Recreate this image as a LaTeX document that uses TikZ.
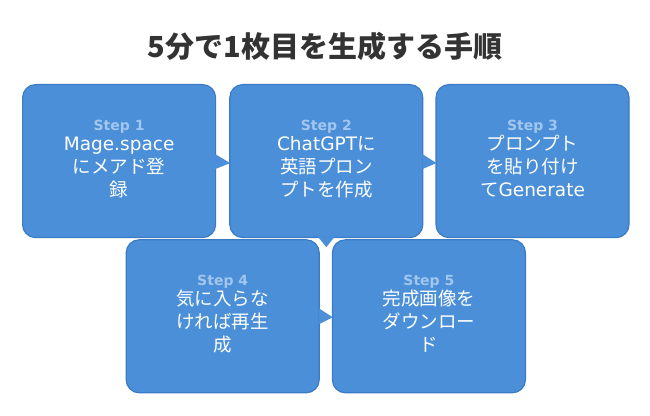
\documentclass[tikz,border=0pt]{standalone}
\usepackage{fontspec}
\setmainfont{Noto Sans CJK JP}
\newfontfamily\latf{DejaVu Sans}
\usepackage{xcolor}
\usepackage{tikz}
\usetikzlibrary{positioning, calc}
\definecolor{stepblue}{HTML}{4A8FD8}
\definecolor{stepedge}{HTML}{3B7BC6}
\definecolor{steplabel}{HTML}{A3C6EE}
\definecolor{titlegrey}{HTML}{333333}
\newcommand{\stepno}[1]{{\latf\fontsize{14}{16}\selectfont\bfseries\color{steplabel}Step #1}\\[-3pt]}
\newcommand{\lift}{\\[-17pt]\mbox{}}

\begin{document}
\begin{tikzpicture}[x=1pt, y=1pt,
  st/.style={rectangle, rounded corners=13pt, draw=stepedge, line width=1.2pt,
             fill=stepblue, text=white, align=center, inner sep=0pt,
             minimum width=193pt, minimum height=153pt,
             font=\fontsize{18.5}{23}\selectfont},
  tp/.style={fill=stepblue},
  hd/.style={text=titlegrey, font=\bfseries\fontsize{29}{34}\selectfont}]
\useasboundingbox (0,0) rectangle (650,415);
\node[hd] (title) at (325,369) {5分で1枚目を生成する手順};
\node[st, anchor=north west] (s1) at (22,331) {\stepno{1}{\latf Mage.space}\\にメアド登\\録\lift};
\node[st, right=13pt of s1] (s2) {\stepno{2}{\latf ChatGPT}に\\英語プロン\\プトを作成\lift};
\node[st, right=12pt of s2] (s3) {\stepno{3}プロンプト\\を貼り付け\\て{\latf Generate}\lift};
\node[st, anchor=north] (s4) at ($(s1.south)!0.5!(s2.south)+(0,-1)$) {\stepno{4}気に入らな\\ければ再生\\成\lift};
\node[st, right=12pt of s4] (s5) {\stepno{5}完成画像を\\ダウンロー\\ド\lift};
% pointers between the steps
\fill[tp] ($(s1.east)+(-1,7)$) -- ($(s2.west)+(1,-2)$) -- ($(s1.east)+(-1,-8)$) -- cycle;
\fill[tp] ($(s2.east)+(-1,7)$) -- ($(s3.west)+(1,-2)$) -- ($(s2.east)+(-1,-8)$) -- cycle;
\fill[tp] ($(s2.south)+(-8,1)$) -- ($(s2.south)+(0,-9)$) -- ($(s2.south)+(8,1)$) -- cycle;
\fill[tp] ($(s4.east)+(-1,8)$) -- ($(s5.west)+(1,-1)$) -- ($(s4.east)+(-1,-8)$) -- cycle;
\end{tikzpicture}
\end{document}
